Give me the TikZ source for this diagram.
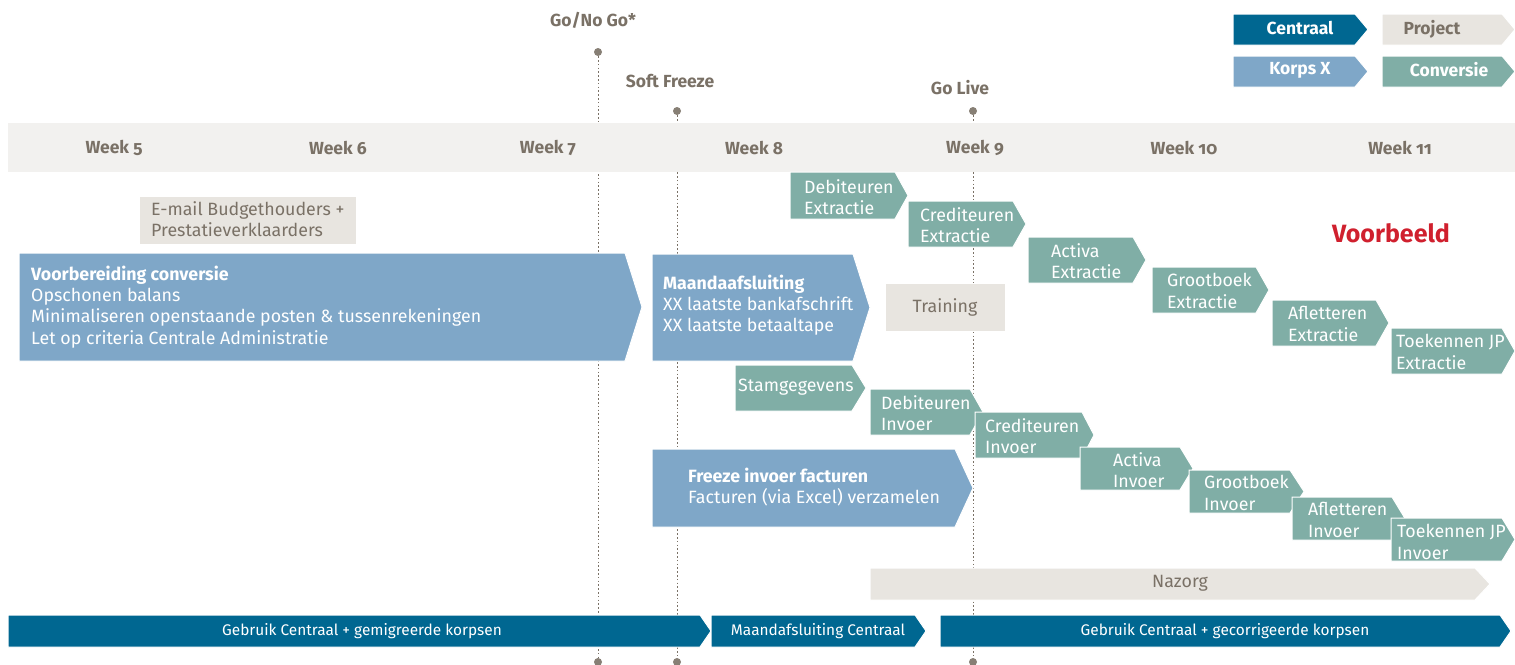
\documentclass[tikz,border=0pt]{standalone}
\usepackage{fontspec}
\setmainfont{Fira Sans}[Numbers=OldStyle]
\definecolor{centraalc}{RGB}{0,103,145}
\definecolor{korpsc}{RGB}{127,167,200}
\definecolor{convc}{RGB}{128,174,166}
\definecolor{projc}{RGB}{232,229,224}
\definecolor{bandc}{RGB}{242,241,239}
\definecolor{greyc}{RGB}{122,113,102}
\definecolor{redc}{RGB}{208,32,46}

% box with a pointed right end: style, x1, y1, x2, y2, tip x
\newcommand{\chevron}[6]{\filldraw[#1] (#2,#3) -- (#4,#3) -- (#6,{(#3+#5)/2}) -- (#4,#5) -- (#2,#5) -- cycle;}

\begin{document}
\begin{tikzpicture}[
    x=1pt, y=-1pt,
    centraal/.style = {fill=centraalc, draw=white, line width=1pt},
    korps/.style = {fill=korpsc, draw=white, line width=1pt},
    conv/.style = {fill=convc, draw=white, line width=1pt},
    proj/.style = {fill=projc, draw=white, line width=1pt},
    txt/.style = {anchor=west, align=left, inner sep=0pt, text=white, font=\fontsize{17.8}{21.3}\selectfont},
    ptxt/.style = {txt, text=greyc},
    legend/.style = {inner sep=0pt, font=\bfseries\fontsize{17.5}{20}\selectfont},
    week/.style = {inner sep=0pt, text=greyc, font=\bfseries\fontsize{17.5}{20}\selectfont},
    bar/.style = {inner sep=0pt, text=white, font=\fontsize{15.4}{18}\selectfont},
    dot/.style = {circle, fill=greyc!90, inner sep=0pt, minimum size=8pt},
    mline/.style = {draw=greyc, line width=0.9pt, dash pattern=on 1.6pt off 2.2pt}
]
    \useasboundingbox (0,0) rectangle (1515,664);

    % Milestones
    \node [legend, text=greyc] (gonogotxt) at (593,20) {Go/No Go*};
    \node [legend, text=greyc] (softtxt) at (670,81) {Soft Freeze};
    \node [legend, text=greyc] (livetxt) at (960,88) {Go Live};
    \node [dot] (gonogo) at (598,52) {};
    \node [dot] (soft) at (677,111) {};
    \node [dot] (live) at (973,111) {};
    \node [dot] (gonogoend) at (598,662) {};
    \node [dot] (softend) at (677,662) {};
    \node [dot] (liveend) at (973,662) {};
    \draw [mline] (gonogo) -- (gonogoend);
    \draw [mline] (soft) -- (softend);
    \draw [mline] (live) -- (liveend);

    % Week band
    \fill [bandc] (8,123) rectangle (1515,172);
    \node [week] (w5) at (114,148) {Week 5};
    \node [week] (w6) at (338,148) {Week 6};
    \node [week] (w7) at (548,148) {Week 7};
    \node [week] (w8) at (754,148) {Week 8};
    \node [week] (w9) at (975,148) {Week 9};
    \node [week] (w10) at (1184,148) {Week 10};
    \node [week] (w11) at (1400,148) {Week 11};

    % Legend
    \chevron{centraal}{1233}{14}{1355}{45}{1368}
    \chevron{proj}{1382}{14}{1502}{45}{1515}
    \chevron{korps}{1233}{56}{1355}{87}{1368}
    \chevron{conv}{1382}{56}{1502}{87}{1515}
    \node [legend, text=white] (legcentraal) at (1300,28) {Centraal};
    \node [legend, text=greyc] (legproject) at (1432,29) {Project};
    \node [legend, text=white] (legkorps) at (1300,70) {Korps X};
    \node [legend, text=white] (legconv) at (1449,70) {Conversie};

    \node [inner sep=0pt, text=redc, font=\bfseries\fontsize{25}{29}\selectfont] (voorbeeld) at (1391,233) {Voorbeeld};

    % Project boxes
    \filldraw [proj] (139,196) rectangle (356,244);
    \node [ptxt] (email) at (151,219) {E-mail Budgethouders +\\Prestatieverklaarders};
    \filldraw [proj] (885,283) rectangle (1005,331);
    \node [ptxt, anchor=center] (training) at (945,307) {Training};
    \chevron{proj}{870}{568}{1475}{600}{1490}
    \node [ptxt, anchor=center] (nazorg) at (1180,583) {Nazorg};

    % Korps boxes
    \chevron{korps}{19}{253}{625}{361}{642}
    \node [txt] (voorb) at (31,307) {\textbf{Voorbereiding conversie}\\Opschonen balans\\Minimaliseren openstaande posten \& tussenrekeningen\\Let op criteria Centrale Administratie};
    \chevron{korps}{652}{254}{853}{361}{870}
    \node [txt] (maand) at (663,305) {\textbf{Maandaafsluiting}\\XX laatste bankafschrift\\XX laatste betaaltape};
    \chevron{korps}{652}{449}{955}{527}{973}
    \node [txt] (freeze) at (688,487) {\textbf{Freeze invoer facturen}\\Facturen (via Excel) verzamelen};

    % Conversie - Extractie
    \chevron{conv}{790}{172}{895}{219}{908}
    \node [txt] (debext) at (804,197) {Debiteuren\\Extractie};
    \chevron{conv}{908}{201}{1013}{247}{1026}
    \node [txt] (credext) at (920,225) {Crediteuren\\Extractie};
    \chevron{conv}{1028}{237}{1133}{283}{1146}
    \node [txt] (actext) at (1051,261) {Activa\\Extractie};
    \chevron{conv}{1152}{267}{1256}{313}{1269}
    \node [txt] (grootext) at (1167,291) {Grootboek\\Extractie};
    \chevron{conv}{1272}{300}{1376}{346}{1389}
    \node [txt] (afletext) at (1288,324) {Afletteren\\Extractie};
    \chevron{conv}{1391}{328}{1502}{374}{1515}
    \node [txt] (toekext) at (1396,352) {Toekennen JP\\Extractie};

    % Conversie - Invoer
    \chevron{conv}{735}{365}{852}{411}{866}
    \node [txt] (stam) at (738,387) {Stamgegevens};
    \chevron{conv}{870}{389}{970}{435}{983}
    \node [txt] (debinv) at (881,413) {Debiteuren\\Invoer};
    \chevron{conv}{975}{412}{1082}{458}{1094}
    \node [txt] (credinv) at (985,436) {Crediteuren\\Invoer};
    \chevron{conv}{1080}{447}{1180}{490}{1193}
    \node [txt] (actinv) at (1113,470) {Activa\\Invoer};
    \chevron{conv}{1189}{470}{1290}{513}{1304}
    \node [txt] (grootinv) at (1204,493) {Grootboek\\Invoer};
    \chevron{conv}{1292}{497}{1392}{540}{1405}
    \node [txt] (afletinv) at (1308,520) {Afletteren\\Invoer};
    \chevron{conv}{1391}{518}{1502}{561}{1515}
    \node [txt] (toekinv) at (1397,542) {Toekennen JP\\Invoer};

    % Centraal - bottom bar
    \chevron{centraal}{8}{615}{700}{647}{711}
    \node [bar] (gebruik1) at (362,631) {Gebruik Centraal + gemigreerde korpsen};
    \chevron{centraal}{711}{615}{915}{647}{926}
    \node [bar] (maandc) at (818,631) {Maandafsluiting Centraal};
    \chevron{centraal}{940}{615}{1500}{647}{1511}
    \node [bar] (gebruik2) at (1225,631) {Gebruik Centraal + gecorrigeerde korpsen};
\end{tikzpicture}
\end{document}
